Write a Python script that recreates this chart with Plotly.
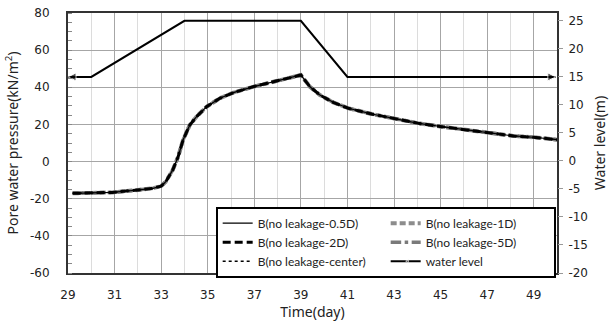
import plotly.graph_objects as go

# ---- data ----
time_pw = [29.2, 30.0, 30.9, 32.0, 32.65, 33.0, 33.2, 33.5, 33.73, 33.94, 34.23, 34.52, 34.95,
           35.52, 36.1, 36.95, 37.8, 38.5, 39.0, 39.39, 39.82, 40.39, 41.04, 42.04, 43.05,
           44.05, 45.05, 46.13, 47.13, 48.13, 49.0, 50.0]
pw_values = [-17.1, -16.9, -16.6, -15.3, -14.4, -13.2, -10.8, -4.5, 2.6, 11.6, 19.7, 24.2, 29.5,
             34.1, 37.1, 40.3, 43.0, 44.9, 46.6, 40.3, 35.8, 31.9, 28.7, 25.6, 22.9,
             20.6, 18.8, 17.0, 15.2, 13.8, 13.1, 11.8]
pw_05D = list(pw_values)
pw_1D = list(pw_values)
pw_2D = list(pw_values)
pw_5D = list(pw_values)
pw_center = list(pw_values)

time_wl = [29, 30, 34, 39, 41, 49.95]
water_level = [15, 15, 25, 25, 15, 15]

x_ticks = [29, 31, 33, 35, 37, 39, 41, 43, 45, 47, 49]
y_ticks = [-60, -40, -20, 0, 20, 40, 60, 80]
y2_ticks = [-20, -15, -10, -5, 0, 5, 10, 15, 20, 25]
names = ["B(no leakage-0.5D)", "B(no leakage-1D)", "B(no leakage-2D)",
         "B(no leakage-5D)", "B(no leakage-center)", "water level"]

fig = go.Figure()
fig.add_trace(go.Scatter(x=time_pw, y=pw_1D, name=names[1], mode="lines", legendrank=2,
                         line=dict(color="#8c8c8c", width=4, dash="6px,3px")))
fig.add_trace(go.Scatter(x=time_pw, y=pw_5D, name=names[3], mode="lines", legendrank=4,
                         line=dict(color="#7a7a7a", width=3.5, dash="dashdot")))
fig.add_trace(go.Scatter(x=time_pw, y=pw_05D, name=names[0], mode="lines", legendrank=1,
                         line=dict(color="black", width=1.2)))
fig.add_trace(go.Scatter(x=time_pw, y=pw_2D, name=names[2], mode="lines", legendrank=3,
                         line=dict(color="black", width=3, dash="8px,4px")))
fig.add_trace(go.Scatter(x=time_pw, y=pw_center, name=names[4], mode="lines", legendrank=5,
                         line=dict(color="black", width=1.5, dash="dot")))
fig.add_trace(go.Scatter(x=time_wl, y=water_level, name=names[5], mode="lines+markers",
                         yaxis="y2", legendrank=6,
                         line=dict(color="black", width=2),
                         marker=dict(color="black",
                                     symbol=["arrow-left", "circle", "circle", "circle", "circle", "arrow-right"],
                                     size=[8, 0, 0, 0, 0, 8])))

tick_font = dict(family="DejaVu Sans", size=12, color="#222")
title_font = dict(family="Noto Sans", size=14, color="#222")

fig.update_layout(
    width=614, height=322,
    margin=dict(l=68, r=57, t=13, b=49, autoexpand=False),
    paper_bgcolor="white", plot_bgcolor="white",
    xaxis=dict(range=[29, 50], tickvals=x_ticks, showgrid=True, gridcolor="#a6a6a6", gridwidth=1,
               minor=dict(dtick=1, tick0=29, showgrid=True, gridcolor="#dcdcdc", gridwidth=1),
               showline=True, linecolor="#333", linewidth=2, mirror=True, automargin=False,
               ticks="", zeroline=False, tickfont=tick_font, ticklabelstandoff=10,
               title=dict(text="Time(day)", font=title_font, standoff=4)),
    yaxis=dict(range=[-60, 80], tickvals=y_ticks, ticktext=[str(v) for v in y_ticks],
               showgrid=True, gridcolor="#a6a6a6", gridwidth=1,
               minor=dict(dtick=5, ticks="inside", ticklen=4, tickcolor="#888", showgrid=False),
               showline=True, linecolor="#333", linewidth=2, mirror=True, automargin=False,
               ticks="", zeroline=False, tickfont=tick_font, ticklabelstandoff=14,
               title=dict(text="Pore water pressure(kN/m<sup>2</sup>)", font=title_font, standoff=8)),
    yaxis2=dict(range=[-20, 26.4], tickvals=y2_ticks, ticktext=[str(v) for v in y2_ticks],
                overlaying="y", side="right", showgrid=False, zeroline=False, automargin=False,
                ticks="outside", ticklen=5, tickcolor="#999", showline=False,
                tickfont=tick_font, ticklabelstandoff=3,
                title=dict(text="Water level(m)", font=title_font, standoff=8)),
    showlegend=True,
    legend=dict(orientation="h", x=0.302, y=0.255, xanchor="left", yanchor="top",
                bgcolor="white", bordercolor="black", borderwidth=2,
                entrywidth=123, font=dict(family="Lato", size=12, color="#222"),
                tracegroupgap=0, itemwidth=30),
)

fig.write_html("out.html")
